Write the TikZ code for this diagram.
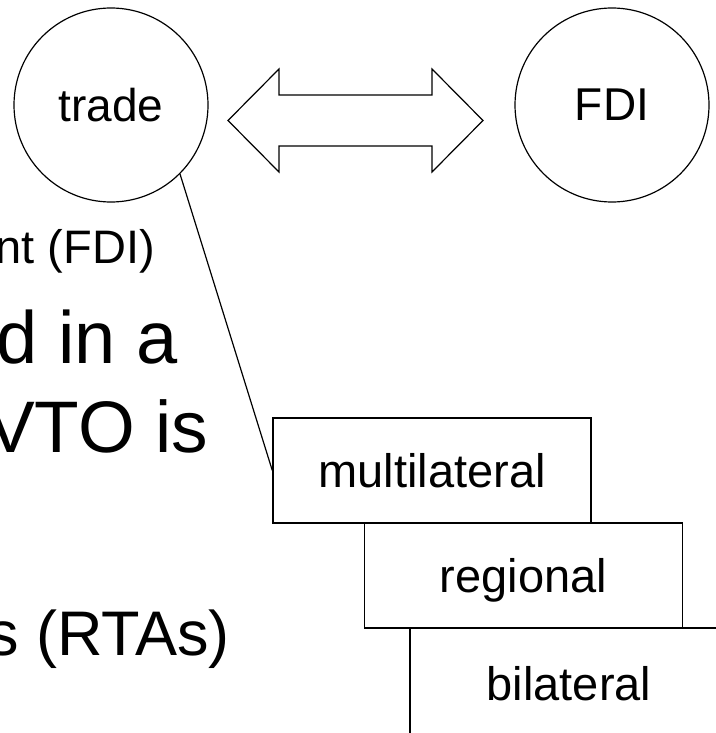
\documentclass[tikz,border=0pt]{standalone}
\usepackage{fontspec}
\setmainfont{Liberation Sans}
\usepackage{tikz}
\usetikzlibrary{arrows,shapes}
\usetikzlibrary{positioning}
\tikzstyle{topic}=[circle, draw=black, line width=1.2pt, minimum size=194pt,
                inner sep=0pt, text=black, font=\fontsize{46}{55}\selectfont]
\tikzstyle{tier}=[rectangle, draw=black, line width=1.4pt, minimum width=318pt,
                minimum height=105pt, inner sep=0pt, text height=34pt, text depth=0pt,
                text=black, font=\fontsize{47}{56}\selectfont]
\tikzstyle{slide}=[anchor=base east, inner sep=0pt, text=black]
\tikzstyle{twoway}=[draw=black, line width=1.2pt, line join=miter]

\begin{document}
\begin{tikzpicture}[x=1pt, y=-1pt]
  \useasboundingbox (0,0) rectangle (715,733);
  % slide text, cut off at the left edge
  \node[slide, font=\fontsize{47}{56}\selectfont] (fdiline) at (155,263) {nt (FDI)};
  \node[slide, font=\fontsize{74}{88}\selectfont] (inaline) at (178,363) {d in a};
  \node[slide, font=\fontsize{73}{88}\selectfont] (wtoline) at (208,452) {VTO is};
  \node[slide, font=\fontsize{63}{76}\selectfont] (rtaline) at (230,655) {s (RTAs)};
  % the two topics
  \node[topic] (trade) at (111,105) {trade};
  \node[topic] (fdi) at (612,105) {FDI};
  \path[twoway] (228,120.5) -- (279,69) -- (279,95) -- (432,95) -- (432,69)
    -- (483,120.5) -- (432,172) -- (432,146) -- (279,146) -- (279,172) -- cycle;
  % levels
  \node[tier] (multi) at (432,470.5) {multilateral};
  \node[tier] (regio) at (523.5,575.5) {regional};
  \node[tier, minimum height=110pt] (bila) at (569,683) {bilateral};
  \path[draw, line width=1.2pt] (trade.south east) -- (multi.west);
\end{tikzpicture}
\end{document}
